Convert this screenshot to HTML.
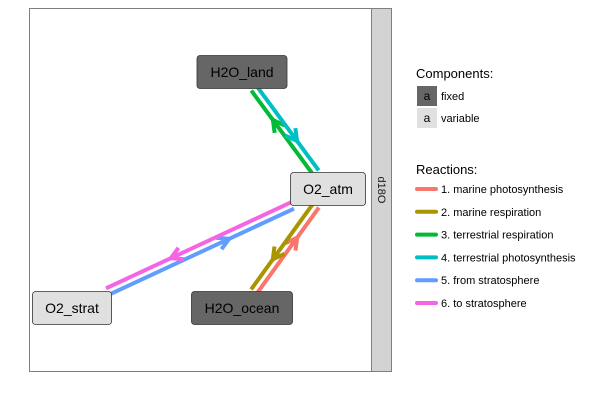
<!DOCTYPE html>
<html><head><meta charset="utf-8"><style>
body{margin:0;background:#fff}
svg{display:block;font-family:"Liberation Sans",Arial,sans-serif}
</style></head><body>
<svg id="c" width="600" height="400" viewBox="0 0 600 400">
<rect x="0" y="0" width="600" height="400" fill="#fff"/>
<rect x="29.5" y="8.5" width="342" height="363" fill="#fff" stroke="#7f7f7f"/>
<rect x="371.5" y="8.5" width="20" height="363" fill="#d3d3d3" stroke="#7f7f7f"/>
<text x="381" y="190" transform="rotate(90 381 190)" text-anchor="middle" dominant-baseline="middle" font-size="11" fill="#1a1a1a">d18O</text>
<g id="edges"></g>
<g id="nodes"></g>
<g>
<text x="416" y="78" font-size="13" fill="#000">Components:</text>
<rect x="417" y="86" width="20" height="20" fill="#666"/>
<text x="427" y="100" font-size="12" text-anchor="middle" fill="#000">a</text>
<text x="441" y="100" font-size="11" fill="#000">fixed</text>
<rect x="417" y="108" width="20" height="20" fill="#e0e0e0"/>
<text x="427" y="122" font-size="12" text-anchor="middle" fill="#000">a</text>
<text x="441" y="122" font-size="11" fill="#000">variable</text>
<text x="416" y="174" font-size="13" fill="#000">Reactions:</text>
<g id="rleg"></g>
</g>
</svg>
<script>
const nodeNames=["H2O_land","O2_atm","O2_strat","H2O_ocean"];
const nodeX=[242,328,72,242];
const nodeY=[72,189,308,308];
const nodeFixed=[true,false,false,true];
const nodeW=[90,75,79,101];
const reactions=["1. marine photosynthesis","2. marine respiration","3. terrestrial respiration","4. terrestrial photosynthesis","5. from stratosphere","6. to stratosphere"];
const colors=["#F8766D","#A89500","#00BA38","#00BFC4","#619CFF","#F564E3"];
const edgeFrom=[3,1,1,0,2,1];
const edgeTo=[1,3,0,1,1,2];
const svgNS="http://www.w3.org/2000/svg";
const eg=document.getElementById('edges');
function mk(t,a,p){const e=document.createElementNS(svgNS,t);for(const k in a)e.setAttribute(k,a[k]);(p||eg).appendChild(e);return e;}
function clip(x,y,ox,oy,w){const dx=ox-x,dy=oy-y;const hw=w/2,hh=16.5;const s=Math.min(Math.abs(dx)>0?hw/Math.abs(dx):1e9,hh/Math.abs(dy));return [x+dx*s,y+dy*s];}
for(let i=0;i<reactions.length;i++){
  const a=edgeFrom[i],b=edgeTo[i];
  let p1=clip(nodeX[a],nodeY[a],nodeX[b],nodeY[b],nodeW[a]),p2=clip(nodeX[b],nodeY[b],nodeX[a],nodeY[a],nodeW[b]);
  const lo=Math.min(a,b),hi=Math.max(a,b);
  const cdx=nodeX[hi]-nodeX[lo],cdy=nodeY[hi]-nodeY[lo],cL=Math.hypot(cdx,cdy);
  // normal pointing to the left side of screen (or up for near-horizontal)
  let nx=-cdy/cL,ny=cdx/cL;
  if(nx>0){nx=-nx;ny=-ny;}
  // first reaction of each pair (lower reaction index) on the right/lower side
  const partner=edgeFrom.findIndex((f,j)=>j!==i&&((f===a&&edgeTo[j]===b)||(f===b&&edgeTo[j]===a)));
  let sideLeft=(i%2===1);
  if(lo===0) sideLeft=(a===1);
  const o=sideLeft?3.5:-3.5;
  p1=[p1[0]+nx*o,p1[1]+ny*o];p2=[p2[0]+nx*o,p2[1]+ny*o];
  const dx=p2[0]-p1[0],dy=p2[1]-p1[1],L=Math.hypot(dx,dy);
  const l=mk('line',{x1:p1[0],y1:p1[1],x2:p2[0],y2:p2[1],stroke:colors[i],'stroke-width':4});
  
  
  const t=0.65;
  const tx=p1[0]+dx*t,ty=p1[1]+dy*t,ux=dx/L,uy=dy/L,al=13,ang=0.5;
  const c=Math.cos(ang),s=Math.sin(ang);
  const bx1=tx-al*(ux*c-uy*s),by1=ty-al*(uy*c+ux*s);
  const bx2=tx-al*(ux*c+uy*s),by2=ty-al*(uy*c-ux*s);
  const ar=mk('polyline',{points:bx1+','+by1+' '+tx+','+ty+' '+bx2+','+by2,fill:'none',stroke:colors[i],'stroke-width':4});
  
  
}
const ng=document.getElementById('nodes');
for(let i=0;i<nodeNames.length;i++){
  const r=mk('rect',{x:nodeX[i]-nodeW[i]/2,y:nodeY[i]-16.5,width:nodeW[i],height:33,rx:3,fill:nodeFixed[i]?'#666':'#e0e0e0',stroke:'#333','stroke-width':0.8},ng);
  
  
  const t=mk('text',{x:nodeX[i],y:nodeY[i]+5,'text-anchor':'middle','font-size':14,fill:'#000'},ng);
  t.textContent=nodeNames[i];
  
  
}
const rg=document.getElementById('rleg');
for(let i=0;i<reactions.length;i++){
  const y=189+i*22.8;
  const l=mk('line',{x1:417,y1:y,x2:436,y2:y,stroke:colors[i],'stroke-width':4,'stroke-linecap':'round'},rg);
  
  
  const t=mk('text',{x:441,y:y+4,'font-size':11,fill:'#000'},rg);
  t.textContent=reactions[i];
  
  
}
</script>
</body></html>
